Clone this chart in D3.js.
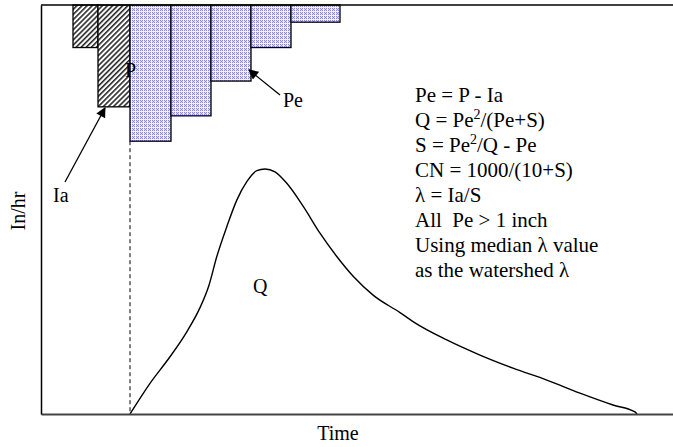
<!DOCTYPE html>
<html>
<head>
<meta charset="utf-8">
<script src="https://cdn.jsdelivr.net/npm/d3@7"></script>
<style>
  body { margin: 0; background: #fff; }
  svg text, svg tspan { font-family: "Liberation Serif", "DejaVu Serif", serif; fill: #000; }
</style>
</head>
<body>
<svg id="chart" width="673" height="447"></svg>
<script>
// rainfall bins (time units) and intensity (in/hr), hanging from the top
const binStart = [1.6, 2.85, 4.45, 6.5, 8.5, 10.5, 12.5];
const binEnd = [2.85, 4.45, 6.5, 8.5, 10.5, 12.5, 14.95];
const intensity = [1.04, 2.49, 3.33, 2.71, 1.86, 1.04, 0.42];
const binType = ["Ia", "Ia", "Pe", "Pe", "Pe", "Pe", "Pe"];

// runoff hydrograph Q
const qTime = [4.45, 5.45, 6.45, 7.29, 7.95, 8.4, 8.79, 9.29, 9.79, 10.29, 10.79, 11.2, 11.7,
  12.29, 13.12, 13.95, 14.79, 15.62, 16.62, 17.95, 18.6, 20.29, 21.95, 23.6, 25.29, 26.95,
  28.6, 29.7, 29.8];
const qValue = [0, 0.75, 1.4, 2.01, 2.6, 3.15, 3.85, 4.58, 5.23, 5.68, 5.95, 5.99, 5.92,
  5.64, 5.07, 4.42, 3.85, 3.36, 2.9, 2.48, 2.26, 1.81, 1.44, 1.12, 0.83, 0.51,
  0.22, 0.05, 0];

const equations = [
  ["Pe = P - Ia"],
  ["Q = Pe", "2", "/(Pe+S)"],
  ["S = Pe", "2", "/Q - Pe"],
  ["CN = 1000/(10+S)"],
  ["\u03bb = Ia/S"],
  ["All \u00a0Pe > 1 inch"],
  ["Using median \u03bb value"],
  ["as the watershed \u03bb"]
];

const serif = "'Liberation Serif', 'DejaVu Serif', serif";
const svg = d3.select("#chart");
const x = d3.scaleLinear().domain([0, 31.6]).range([41, 673]);
const yRain = d3.scaleLinear().domain([0, 10]).range([5, 414]);
const yQ = d3.scaleLinear().domain([0, 10]).range([414, 5]);

const defs = svg.append("defs");

// hatch for initial abstraction
const hatch = defs.append("pattern")
  .attr("id", "hatch")
  .attr("patternUnits", "userSpaceOnUse")
  .attr("width", 3.6).attr("height", 3.6)
  .attr("patternTransform", "rotate(45)");
hatch.append("rect").attr("width", 3.6).attr("height", 3.6).attr("fill", "#fff");
hatch.append("line").attr("x1", 0.8).attr("y1", 0).attr("x2", 0.8).attr("y2", 3.6)
  .attr("stroke", "#1a1a1a").attr("stroke-width", 1.5);

// fine dotted fill for effective rain
const dots = defs.append("pattern")
  .attr("id", "dots")
  .attr("patternUnits", "userSpaceOnUse")
  .attr("width", 4).attr("height", 4);
dots.append("rect").attr("width", 4).attr("height", 4).attr("fill", "#dadaf2");
dots.append("rect").attr("x", 3).attr("y", 0).attr("width", 1).attr("height", 4).attr("fill", "#f4f4fc");
dots.append("rect").attr("x", 0).attr("y", 3).attr("width", 4).attr("height", 1).attr("fill", "#f4f4fc");
[[0, 0], [2, 0], [1, 1], [0, 2], [2, 2]].forEach(([a, b]) => {
  dots.append("rect").attr("x", a).attr("y", b).attr("width", 1).attr("height", 1)
    .attr("fill", "#8c8cc8");
});

const marker = defs.append("marker")
  .attr("id", "arrow")
  .attr("viewBox", "0 0 10 10")
  .attr("refX", 9).attr("refY", 5)
  .attr("markerUnits", "userSpaceOnUse")
  .attr("markerWidth", 12).attr("markerHeight", 10)
  .attr("orient", "auto");
marker.append("path").attr("d", "M0,0L10,5L0,10Z").attr("fill", "#000");

// bars
const bins = binStart.map((s, i) => ({ s, e: binEnd[i], v: intensity[i], t: binType[i] }));
svg.append("g").selectAll("rect")
  .data(bins)
  .join("rect")
  .attr("x", d => x(d.s))
  .attr("y", yRain(0))
  .attr("width", d => x(d.e) - x(d.s))
  .attr("height", d => yRain(d.v) - yRain(0))
  .attr("fill", d => d.t === "Ia" ? "url(#hatch)" : "url(#dots)")
  .attr("stroke", "#000")
  .attr("stroke-width", 1.3);

// dashed line marking start of runoff
svg.append("line")
  .attr("x1", x(binStart[2])).attr("x2", x(binStart[2]))
  .attr("y1", yRain(intensity[2])).attr("y2", yQ(0))
  .attr("stroke", "#000").attr("stroke-width", 1)
  .attr("stroke-dasharray", "4,3");

// hydrograph
const line = d3.line()
  .x((d, i) => x(qTime[i]))
  .y(d => yQ(d))
  .curve(d3.curveMonotoneX);
svg.append("path")
  .attr("d", line(qValue))
  .attr("fill", "none")
  .attr("stroke", "#000")
  .attr("stroke-width", 1.4);

// frame
svg.append("g")
  .attr("transform", `translate(0,${yQ(0)})`)
  .call(d3.axisBottom(x).tickValues([]).tickSizeOuter(0))
  .select(".domain").attr("stroke", "#444").attr("stroke-width", 2);
svg.append("g")
  .attr("transform", `translate(${x(0)},0)`)
  .call(d3.axisLeft(yQ).tickValues([]).tickSizeOuter(0))
  .select(".domain").attr("stroke", "#000").attr("stroke-width", 1.5);
svg.append("line")
  .attr("x1", x(0)).attr("x2", x(31.6))
  .attr("y1", yRain(0)).attr("y2", yRain(0))
  .attr("stroke", "#000").attr("stroke-width", 1.5);

// axis titles
svg.append("text")
  .attr("x", 338).attr("y", 440)
  .attr("text-anchor", "middle")
  .attr("font-family", serif).attr("font-size", 20)
  .text("Time");
svg.append("text")
  .attr("transform", "translate(25,211) rotate(-90)")
  .attr("text-anchor", "middle")
  .attr("font-family", serif).attr("font-size", 20)
  .text("In/hr");

// labels and arrows
const lab = svg.append("g").attr("font-family", serif).attr("font-size", 20);
lab.append("text").attr("x", 125).attr("y", 77).text("P");
lab.append("text").attr("x", 283).attr("y", 107).text("Pe");
lab.append("text").attr("x", 53).attr("y", 202).text("Ia");
lab.append("text").attr("x", 253).attr("y", 293).text("Q");

svg.append("line")
  .attr("x1", 65).attr("y1", 182).attr("x2", 105).attr("y2", 108)
  .attr("stroke", "#000").attr("stroke-width", 1.3)
  .attr("marker-end", "url(#arrow)");
svg.append("line")
  .attr("x1", 280).attr("y1", 95).attr("x2", 249).attr("y2", 70)
  .attr("stroke", "#000").attr("stroke-width", 1.3)
  .attr("marker-end", "url(#arrow)");

// equations
const eq = svg.append("g").attr("font-family", serif).attr("font-size", 21);
equations.forEach((parts, i) => {
  const t = eq.append("text").attr("x", 415).attr("y", 102 + i * 25);
  parts.forEach((p, j) => {
    if (parts.length > 1 && j === 1) {
      t.append("tspan").attr("font-size", 14).attr("dy", -8).text(p);
    } else if (parts.length > 1 && j === 2) {
      t.append("tspan").attr("dy", 8).text(p);
    } else {
      t.append("tspan").text(p);
    }
  });
});
</script>
</body>
</html>
